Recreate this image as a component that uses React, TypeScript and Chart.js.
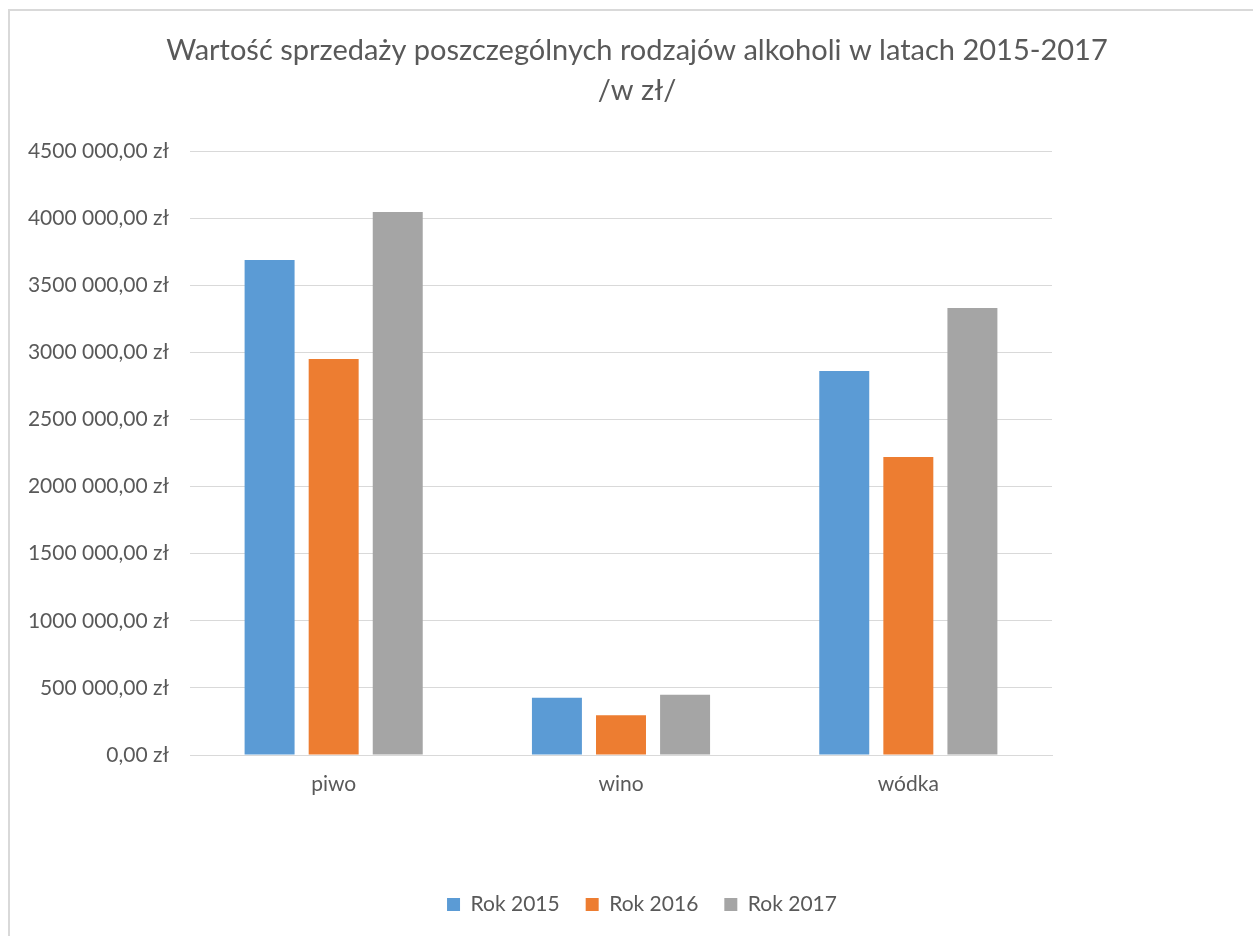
import React, { useEffect, useRef } from "react";
import { Chart, registerables } from "chart.js";

Chart.register(...registerables);

const categories = ["piwo", "wino", "wódka"];
const seriesNames = ["Rok 2015", "Rok 2016", "Rok 2017"];
const rok2015 = [3688000, 427000, 2861000];
const rok2016 = [2950000, 296000, 2220000];
const rok2017 = [4046000, 449000, 3330000];
const seriesColors = ["#5B9BD5", "#ED7D31", "#A5A5A5"];
const titleLines = [
  "Wartość sprzedaży poszczególnych rodzajów alkoholi w latach 2015-2017",
  "/w zł/",
];
const yMin = 0;
const yMax = 4500000;
const yStep = 500000;

const FONT = "Lato, 'Open Sans', sans-serif";
const TEXT = "#595959";
const GRID = "#D9D9D9";

function formatZl(v: number): string {
  const n = Math.round(v);
  if (n >= 1000) {
    const hi = Math.floor(n / 1000);
    const lo = String(n % 1000).padStart(3, "0");
    return `${hi} ${lo},00 zł`;
  }
  return `${n},00 zł`;
}

const titlePlugin = {
  id: "centeredTitle",
  afterDraw(chart: any) {
    const ctx = chart.ctx;
    ctx.save();
    ctx.fillStyle = TEXT;
    ctx.font = `29px ${FONT}`;
    ctx.textAlign = "center";
    ctx.textBaseline = "middle";
    titleLines.forEach((line, i) => {
      ctx.fillText(line, 637, 51 + i * 40);
    });
    ctx.restore();
  },
};

const legendShiftPlugin = {
  id: "legendShift",
  afterUpdate(chart: any) {
    const lg = chart.legend;
    if (lg) {
      lg.left += 116;
      lg.right += 116;
    }
  },
};

export default function App() {
  const ref = useRef<HTMLCanvasElement | null>(null);

  useEffect(() => {
    if (!ref.current) return;
    const data = [rok2015, rok2016, rok2017];
    const chart = new Chart(ref.current, {
      type: "bar",
      data: {
        labels: categories,
        datasets: seriesNames.map((name, i) => ({
          label: name,
          data: data[i],
          backgroundColor: seriesColors[i],
          borderWidth: 0,
          categoryPercentage: 0.669,
          barPercentage: 0.78,
        })),
      },
      plugins: [titlePlugin, legendShiftPlugin],
      options: {
        animation: false,
        responsive: false,
        maintainAspectRatio: false,
        layout: { padding: { left: 0, right: 201, top: 151, bottom: 11 } },
        plugins: {
          title: { display: false },
          legend: {
            display: true,
            position: "bottom",
            labels: {
              color: TEXT,
              font: { family: FONT, size: 21 },
              boxWidth: 13,
              boxHeight: 13,
              padding: 26,
            },
          },
          tooltip: { enabled: false },
        },
        scales: {
          x: {
            afterFit: (scale: any) => {
              scale.height = 113;
            },
            grid: { display: false, drawTicks: false },
            border: { display: true, color: GRID, width: 1 },
            ticks: { color: TEXT, font: { family: FONT, size: 21 }, padding: 17 },
          },
          y: {
            min: yMin,
            max: yMax,
            afterFit: (scale: any) => {
              scale.width = 190;
            },
            grid: { color: GRID, lineWidth: 1, drawTicks: false },
            border: { display: false },
            ticks: {
              stepSize: yStep,
              color: TEXT,
              font: { family: FONT, size: 21 },
              padding: 21,
              callback: (v: any) => formatZl(Number(v)),
            },
          },
        },
      },
    });
    return () => chart.destroy();
  }, []);

  return (
    <div
      style={{
        position: "fixed",
        left: 0,
        top: 0,
        width: 1253,
        height: 936,
        background: "#fff",
        overflow: "hidden",
      }}
    >
      <div
        style={{
          position: "absolute",
          left: 8,
          top: 9,
          width: 1300,
          height: 1000,
          border: "2px solid #D9D9D9",
          boxSizing: "border-box",
        }}
      />
      <canvas
        ref={ref}
        width={1253}
        height={936}
        style={{ position: "absolute", left: 0, top: 0, width: 1253, height: 936 }}
      />
    </div>
  );
}
